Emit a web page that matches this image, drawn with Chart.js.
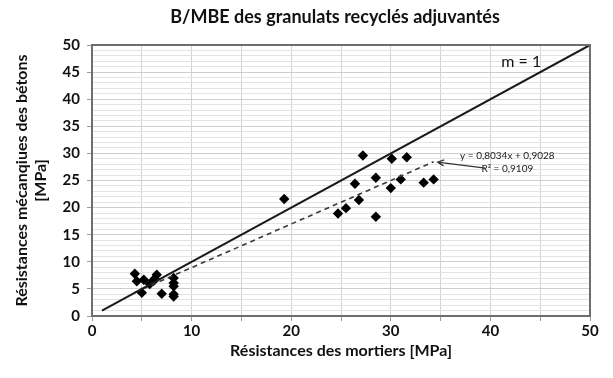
<!DOCTYPE html>
<html>
<head>
<meta charset="utf-8">
<script src="https://cdn.jsdelivr.net/npm/chart.js@4/dist/chart.umd.min.js"></script>
<style>
  html, body { margin: 0; padding: 0; background: #fff; }
  #wrap { width: 613px; height: 378px; }
</style>
</head>
<body>
<div id="wrap"><canvas id="c" width="613" height="378"></canvas></div>
<script>
// Mortar strength (x) vs concrete strength (y), MPa
const mortarStrength = [4.3, 4.5, 5.0, 5.2, 5.8, 6.2, 6.3, 6.5, 7.0, 8.2, 8.2, 8.2, 8.2, 8.2,
  19.3, 24.7, 25.5, 26.4, 26.8, 27.2, 28.5, 28.5, 30.0, 30.1, 31.0, 31.6, 33.3, 34.3];
const concreteStrength = [7.8, 6.4, 4.3, 6.7, 5.9, 6.5, 6.9, 7.6, 4.1, 7.0, 6.1, 5.5, 4.0, 3.6,
  21.6, 18.9, 19.9, 24.4, 21.4, 29.6, 25.5, 18.3, 23.6, 29.0, 25.2, 29.3, 24.6, 25.2];

// Linear fit reported on the chart
const fitSlope = 0.8034;
const fitIntercept = 0.9028;
const fitR2 = 0.9109;
const fitRange = [4.3, 34.3];

// Reference line m = 1
const identityRange = [1, 50];

const axisTicks = [0, 10, 20, 30, 40, 50];

const FONT = 'Lato, "Open Sans", "Liberation Sans", sans-serif';
const fr = v => v.toFixed(4).replace('.', ',');

const points = mortarStrength.map((x, i) => ({ x, y: concreteStrength[i] }));
const fitLine = fitRange.map(x => ({ x, y: fitSlope * x + fitIntercept }));
const identityLine = identityRange.map(x => ({ x, y: x }));

// Frame, title and in-plot annotations
const decorations = {
  id: 'decorations',
  afterDatasetsDraw(chart) {
    const { ctx, chartArea: a, scales: { x, y } } = chart;
    ctx.save();
    ctx.strokeStyle = '#6e6e6e';
    ctx.lineWidth = 2;
    ctx.strokeRect(a.left, a.top, a.right - a.left, a.bottom - a.top);

    ctx.fillStyle = '#111';
    ctx.textAlign = 'center';
    ctx.textBaseline = 'middle';
    ctx.font = 'bold 18px ' + FONT;
    ctx.fillText('B/MBE des granulats recyclés adjuvantés', 335, 17);

    ctx.font = '16px ' + FONT;
    ctx.fillText('m = 1', x.getPixelForValue(43.1), y.getPixelForValue(46.9));

    ctx.fillStyle = '#222';
    ctx.font = '10px ' + FONT;
    ctx.fillText('y = ' + fr(fitSlope) + 'x + ' + fr(fitIntercept), x.getPixelForValue(41.7), y.getPixelForValue(29.6));
    ctx.fillText('R² = ' + fr(fitR2), x.getPixelForValue(41.7), y.getPixelForValue(27.1));

    // arrow pointing at the end of the fitted line
    const tx = x.getPixelForValue(34.7), ty = y.getPixelForValue(28.4);
    const sx = x.getPixelForValue(39.5), sy = y.getPixelForValue(27.3);
    ctx.strokeStyle = '#333';
    ctx.lineWidth = 1.2;
    ctx.beginPath();
    ctx.moveTo(sx, sy);
    ctx.lineTo(tx, ty);
    const ang = Math.atan2(sy - ty, sx - tx);
    ctx.moveTo(tx + 7 * Math.cos(ang - 0.45), ty + 7 * Math.sin(ang - 0.45));
    ctx.lineTo(tx, ty);
    ctx.lineTo(tx + 7 * Math.cos(ang + 0.45), ty + 7 * Math.sin(ang + 0.45));
    ctx.stroke();
    ctx.restore();
  }
};

new Chart(document.getElementById('c'), {
  type: 'scatter',
  data: {
    datasets: [
      {
        label: 'm = 1',
        type: 'line',
        data: identityLine,
        borderColor: '#1a1a1a',
        borderWidth: 2,
        pointRadius: 0,
        fill: false
      },
      {
        label: 'Régression',
        type: 'line',
        data: fitLine,
        borderColor: '#3a3a3a',
        borderWidth: 1.6,
        borderDash: [5, 4],
        pointRadius: 0,
        fill: false
      },
      {
        label: 'B/MBE',
        data: points,
        pointStyle: 'rectRot',
        pointRadius: 5.2,
        pointBackgroundColor: '#000',
        pointBorderColor: '#000',
        borderWidth: 0
      }
    ]
  },
  options: {
    responsive: false,
    animation: false,
    layout: { padding: { top: 45, right: 23, left: 0, bottom: 0 } },
    plugins: { legend: { display: false }, tooltip: { enabled: false }, title: { display: false } },
    scales: {
      x: {
        type: 'linear',
        min: 0, max: 50,
        afterFit: s => { s.height = 62; },
        afterBuildTicks: s => { s.ticks = [...Array(11).keys()].map(i => ({ value: i * 5 })); },
        ticks: {
          padding: 1,
          color: '#111',
          font: { family: FONT, size: 15, weight: 'bold' },
          callback: v => axisTicks.includes(v) ? String(v) : ''
        },
        grid: { color: '#d4d4d4', lineWidth: 1, tickLength: 5, tickColor: '#9a9a9a' },
        border: { display: false },
        title: {
          display: true,
          text: 'Résistances des mortiers [MPa]',
          color: '#111',
          font: { family: FONT, size: 16, weight: 'bold' },
          padding: { top: 0, bottom: 18 }
        }
      },
      y: {
        type: 'linear',
        min: 0, max: 50,
        afterFit: s => { s.width = 92; },
        afterBuildTicks: s => { s.ticks = [...Array(51).keys()].map(i => ({ value: i })); },
        ticks: {
          padding: 7,
          autoSkip: false,
          color: '#111',
          font: { family: FONT, size: 15, weight: 'bold' },
          callback: v => v % 5 === 0 ? String(v) : ''
        },
        grid: {
          color: c => (c.tick && c.tick.value % 5 === 0) ? '#cfcfcf' : '#e3e3e3',
          lineWidth: 1,
          tickLength: 5,
          tickColor: c => (c.tick && c.tick.value % 5 === 0) ? '#9a9a9a' : 'rgba(0,0,0,0)'
        },
        border: { display: false },
        title: {
          display: true,
          text: ['Résistances mécanqiues des bétons', '[MPa]'],
          color: '#111',
          font: { family: FONT, size: 16, weight: 'bold', lineHeight: 1.2 },
          padding: { top: 12, bottom: 0 }
        }
      }
    }
  },
  plugins: [decorations]
});
</script>
</body>
</html>
